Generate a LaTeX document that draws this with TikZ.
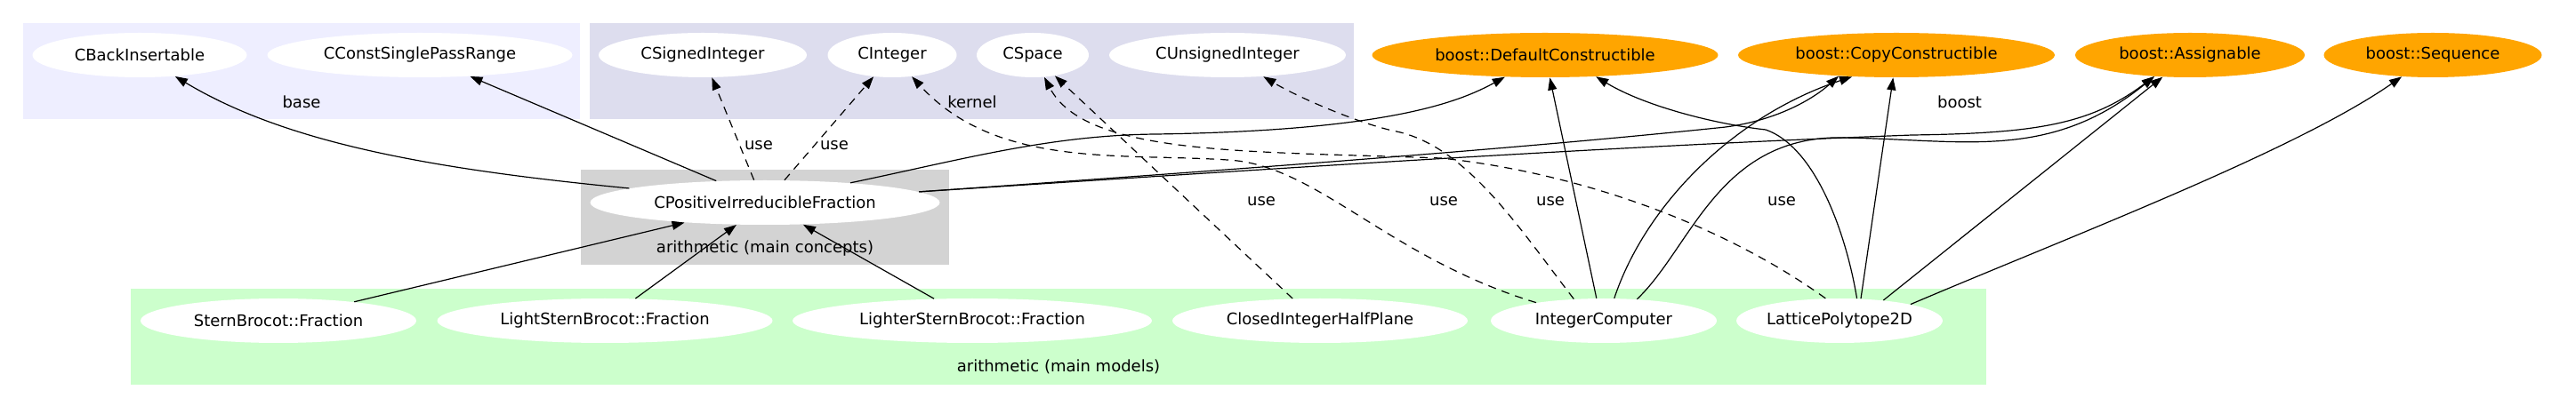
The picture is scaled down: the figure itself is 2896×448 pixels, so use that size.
\documentclass[tikz,border=0pt]{standalone}
\usepackage{fontspec}
\setmainfont{DejaVu Sans}
\usepackage{xcolor}
\usetikzlibrary{arrows.meta,shapes.geometric}
\definecolor{ClusterBase}{HTML}{EEEEFF}
\definecolor{ClusterKernel}{HTML}{DDDDEE}
\definecolor{ClusterConcepts}{HTML}{D3D3D3}
\definecolor{ClusterModels}{HTML}{CCFFCC}
\definecolor{BoostOrange}{HTML}{FFA500}

\begin{document}
\begin{tikzpicture}[x=0.5pt,y=-0.5pt,>={Triangle[length=7pt,width=5pt]},
  font=\fontsize{9}{11}\selectfont,
  concept/.style={ellipse,fill=white,inner sep=0pt,minimum height=25pt},
  boostconcept/.style={ellipse,fill=BoostOrange,inner sep=0pt,minimum height=25pt},
  clusterlabel/.style={inner sep=0pt},
  uselabel/.style={inner sep=0pt},
  refines/.style={->,line width=0.6pt},
  uses/.style={->,line width=0.6pt,dash pattern=on 4.5pt off 3.5pt}]
  \useasboundingbox (0,0) rectangle (2896,448);

  % clusters
  \fill[ClusterBase] (26,26) rectangle (652,134);
  \fill[ClusterKernel] (663,26) rectangle (1522,134);
  \fill[ClusterConcepts] (653,191) rectangle (1067,298);
  \fill[ClusterModels] (147,325) rectangle (2233,433);
  \node[clusterlabel] (baselabel) at (339,115) {base};
  \node[clusterlabel] (kernellabel) at (1093,115) {kernel};
  \node[clusterlabel] (boostlabel) at (2203,115) {boost};
  \node[clusterlabel] (conceptslabel) at (860,280) {arithmetic (main concepts)};
  \node[clusterlabel] (modelslabel) at (1190,413) {arithmetic (main models)};

  % concepts
  \node[concept,minimum width=120.5pt] (insert) at (157,62) {CBackInsertable};
  \node[concept,minimum width=171.5pt] (range) at (472,62) {CConstSinglePassRange};
  \node[concept,minimum width=117pt] (signed) at (790,62) {CSignedInteger};
  \node[concept,minimum width=72.5pt] (integer) at (1003,62) {CInteger};
  \node[concept,minimum width=63pt] (space) at (1161,62) {CSpace};
  \node[concept,minimum width=133pt] (unsigned) at (1380,62) {CUnsignedInteger};
  \node[boostconcept,minimum width=194.5pt] (defcons) at (1737,62) {boost::DefaultConstructible};
  \node[boostconcept,minimum width=178pt] (copycons) at (2132,62) {boost::CopyConstructible};
  \node[boostconcept,minimum width=129pt] (assign) at (2462,62) {boost::Assignable};
  \node[boostconcept,minimum width=122.5pt] (sequence) at (2735,62) {boost::Sequence};
  \node[concept,minimum width=196.5pt] (fraction) at (860,228) {CPositiveIrreducibleFraction};

  % models
  \node[concept,minimum width=155pt] (sbfrac) at (313,361) {SternBrocot::Fraction};
  \node[concept,minimum width=188.5pt] (lightfrac) at (680,361) {LightSternBrocot::Fraction};
  \node[concept,minimum width=202pt] (lighterfrac) at (1093,361) {LighterSternBrocot::Fraction};
  \node[concept,minimum width=166pt] (halfplane) at (1484,361) {ClosedIntegerHalfPlane};
  \node[concept,minimum width=127pt] (intcomp) at (1803,361) {IntegerComputer};
  \node[concept,minimum width=115.5pt] (polytope) at (2068,361) {LatticePolytope2D};

  % fraction
  \draw[refines] (fraction.174) .. controls (480,190) and (320,160) .. (insert);
  \draw[refines] (fraction.156) -- (range);
  \draw[uses] (fraction.116) -- (signed);
  \draw[uses] (fraction.49) -- (integer);
  \draw[refines] (fraction.13) .. controls (1080,180) and (1180,152) .. (1300,151)
    .. controls (1560,147) and (1640,115) .. (defcons);
  \draw[refines] (fraction.4) .. controls (1400,190) and (1700,168) .. (1940,143)
    .. controls (2000,135) and (2040,110) .. (copycons.200);
  \draw[refines] (fraction.4) .. controls (1400,192) and (1800,165) .. (2150,152)
    .. controls (2290,150) and (2350,140) .. (assign.211);
  \node[uselabel] (use1) at (853,164) {use};
  \node[uselabel] (use2) at (938,164) {use};

  % models to fraction
  \draw[refines] (sbfrac.14) -- (fraction.194);
  \draw[refines] (lightfrac.36) -- (fraction.218);
  \draw[refines] (lighterfrac.150) -- (fraction.330);

  % models to kernel
  \draw[uses] (halfplane.141) -- (space);
  \draw[uses] (intcomp.165) .. controls (1560,290) and (1480,185) .. (1380,180)
    .. controls (1260,172) and (1120,190) .. (integer);
  \draw[uses] (intcomp.144) .. controls (1710,260) and (1650,165) .. (1570,148)
    .. controls (1530,140) and (1460,110) .. (unsigned);
  \draw[uses] (polytope.122) .. controls (1940,255) and (1780,195) .. (1620,178)
    .. controls (1400,170) and (1220,175) .. (space);
  \node[uselabel] (use3) at (1418,227) {use};
  \node[uselabel] (use4) at (1623,227) {use};
  \node[uselabel] (use5) at (1743,227) {use};
  \node[uselabel] (use6) at (2003,227) {use};

  % models to boost
  \draw[refines] (intcomp.108) -- (defcons);
  \draw[refines] (intcomp.65) .. controls (1850,230) and (1950,130) .. (copycons.206);
  \draw[refines] (intcomp.33) .. controls (1900,280) and (1930,160) .. (2060,155)
    .. controls (2200,155) and (2300,185) .. (assign.211);
  \draw[refines] (polytope.52) .. controls (2075,260) and (2040,165) .. (1985,146)
    .. controls (1930,140) and (1850,120) .. (defcons.337);
  \draw[refines] (polytope.46) -- (copycons);
  \draw[refines] (polytope.25) -- (assign);
  \draw[refines] (polytope.13) .. controls (2330,265) and (2580,170) .. (sequence);
\end{tikzpicture}
\end{document}
